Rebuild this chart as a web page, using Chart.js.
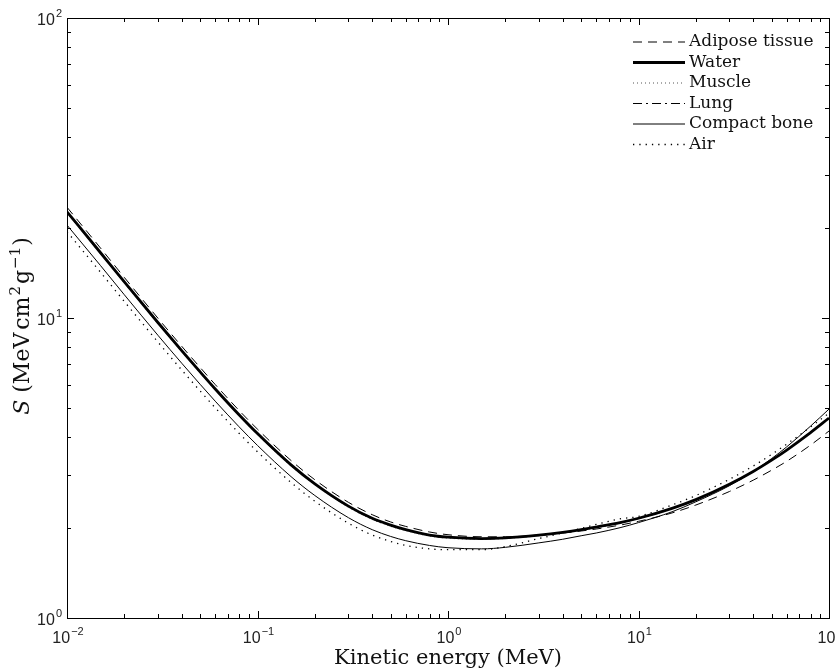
<!DOCTYPE html>
<html>
<head>
<meta charset="utf-8">
<title>Electron stopping power</title>
<script src="https://cdn.jsdelivr.net/npm/chart.js"></script>
<style>
  html, body { margin: 0; padding: 0; background: #fff; }
</style>
</head>
<body>
<canvas id="spChart" width="836" height="672"></canvas>
<script>
// kinetic energy (MeV) and total stopping power S (MeV cm2/g)
const energy  = [0.01, 0.015, 0.02, 0.03, 0.04, 0.05, 0.06, 0.08, 0.1, 0.15, 0.2, 0.3, 0.4, 0.5, 0.6, 0.8,
                 1, 1.5, 2, 3, 4, 5, 6, 8, 10, 15, 20, 30, 40, 50, 60, 80, 100];
const adipose = [23.4, 17.1, 13.65, 9.99, 8.05, 6.84, 6.00, 4.92, 4.26, 3.35, 2.89, 2.43, 2.21, 2.09, 2.02, 1.935,
                 1.895, 1.865, 1.865, 1.89, 1.92, 1.95, 1.98, 2.04, 2.10, 2.24, 2.38, 2.64, 2.88, 3.11, 3.33, 3.77, 4.20];
const water   = [22.6, 16.5, 13.2, 9.66, 7.78, 6.61, 5.80, 4.76, 4.12, 3.24, 2.80, 2.36, 2.15, 2.04, 1.97, 1.89,
                 1.86, 1.84, 1.85, 1.89, 1.93, 1.97, 2.01, 2.08, 2.15, 2.32, 2.48, 2.79, 3.08, 3.36, 3.63, 4.15, 4.64];
const muscle  = [22.4, 16.35, 13.08, 9.57, 7.71, 6.55, 5.75, 4.72, 4.08, 3.21, 2.78, 2.34, 2.13, 2.02, 1.955, 1.875,
                 1.845, 1.83, 1.84, 1.88, 1.92, 1.96, 2.00, 2.07, 2.14, 2.31, 2.47, 2.78, 3.07, 3.35, 3.62, 4.14, 4.63];
const lung    = [22.5, 16.43, 13.14, 9.62, 7.75, 6.58, 5.78, 4.74, 4.10, 3.23, 2.79, 2.35, 2.14, 2.03, 1.965, 1.885,
                 1.855, 1.835, 1.845, 1.885, 1.925, 1.965, 2.005, 2.075, 2.145, 2.315, 2.475, 2.785, 3.075, 3.355, 3.625, 4.145, 4.635];
const bone    = [20.4, 14.95, 11.95, 8.76, 7.07, 6.01, 5.28, 4.34, 3.76, 2.96, 2.56, 2.16, 1.97, 1.87, 1.81, 1.745,
                 1.715, 1.70, 1.72, 1.78, 1.83, 1.88, 1.92, 2.00, 2.08, 2.26, 2.44, 2.76, 3.08, 3.40, 3.72, 4.36, 4.97];
const air     = [19.4, 14.2, 11.35, 8.32, 6.71, 5.71, 5.02, 4.13, 3.58, 2.83, 2.45, 2.07, 1.89, 1.80, 1.745, 1.70,
                 1.69, 1.69, 1.73, 1.84, 1.92, 1.99, 2.05, 2.14, 2.18, 2.38, 2.56, 2.90, 3.21, 3.51, 3.80, 4.33, 4.82];

const xTickValues = [0.01, 0.1, 1, 10, 100];
const xTickExps   = ['\u22122', '\u22121', '0', '1', '2'];
const yTickValues = [1, 10, 100];
const yTickExps   = ['0', '1', '2'];

const serif = '"DejaVu Serif", "Liberation Serif", serif';
const sans = '"Liberation Sans", Arial, sans-serif';

function pts(vals) {
  return energy.map((e, i) => ({ x: e, y: vals[i] }));
}

function line(label, vals, width, dash, color) {
  return {
    label: label,
    data: pts(vals),
    borderColor: color || '#000',
    borderWidth: width,
    borderDash: dash,
    pointRadius: 0,
    fill: false,
    cubicInterpolationMode: 'monotone'
  };
}

// box round the plot area, inward ticks on all four sides, tick labels with exponents
const frame = {
  id: 'frame',
  afterDatasetsDraw(chart) {
    const { ctx, chartArea: a, scales: { x, y } } = chart;
    ctx.save();
    ctx.strokeStyle = '#000';
    ctx.lineWidth = 1;
    ctx.setLineDash([]);
    ctx.strokeRect(a.left + 0.5, a.top + 0.5, a.right - a.left, a.bottom - a.top);

    ctx.beginPath();
    for (let n = -2; n < 2; n++) {
      for (let k = 1; k <= 9; k++) {
        const px = Math.round(x.getPixelForValue(k * Math.pow(10, n))) + 0.5;
        const len = k === 1 ? 7 : 4;
        ctx.moveTo(px, a.bottom); ctx.lineTo(px, a.bottom - len);
        ctx.moveTo(px, a.top); ctx.lineTo(px, a.top + len);
      }
    }
    for (let n = 0; n < 2; n++) {
      for (let k = 1; k <= 9; k++) {
        const py = Math.round(y.getPixelForValue(k * Math.pow(10, n))) + 0.5;
        const len = k === 1 ? 7 : 4;
        ctx.moveTo(a.left, py); ctx.lineTo(a.left + len, py);
        ctx.moveTo(a.right, py); ctx.lineTo(a.right - len, py);
      }
    }
    ctx.stroke();

    ctx.fillStyle = '#222';
    ctx.textBaseline = 'alphabetic';
    const base = '16px ' + sans, sup = '11px ' + sans;
    function label(exp, cx, baseline, anchor) {
      ctx.font = base; const w1 = ctx.measureText('10').width;
      ctx.font = sup; const w2 = ctx.measureText(exp).width + 1;
      const left = anchor === 'right' ? cx - w1 - w2 : cx - (w1 + w2) / 2;
      ctx.font = base; ctx.fillText('10', left, baseline);
      ctx.font = sup; ctx.fillText(exp, left + w1 + 1, baseline - 8);
    }
    xTickValues.forEach((v, i) => label(xTickExps[i], x.getPixelForValue(v) + 1, a.bottom + 25, 'center'));
    yTickValues.forEach((v, i) => label(yTickExps[i], a.left - 5, y.getPixelForValue(v) + 7, 'right'));

    // x title
    ctx.fillStyle = '#111';
    ctx.font = '21px ' + serif;
    ctx.textAlign = 'center';
    ctx.fillText('Kinetic energy (MeV)', (a.left + a.right) / 2, 664);

    // y title: S (MeV cm^2 g^-1), pieces drawn in a row with raised exponents
    const big = '22px ' + serif, small = '15px ' + serif;
    const parts = [
      { t: 'S', f: 'italic ' + big, dy: 0 },
      { t: ' (MeV', f: big, dy: 0 },
      { t: 'cm', f: big, dy: 0, gap: 3 },
      { t: '2', f: small, dy: -9, gap: 1 },
      { t: 'g', f: big, dy: 0, gap: 2 },
      { t: '\u22121', f: small, dy: -9, gap: 1 },
      { t: ')', f: big, dy: 0, gap: 1 }
    ];
    let total = 0;
    parts.forEach(p => { ctx.font = p.f; p.w = ctx.measureText(p.t).width; total += p.w + (p.gap || 0); });
    ctx.translate(29, 326);
    ctx.rotate(-Math.PI / 2);
    ctx.textAlign = 'left';
    let pos = -total / 2;
    parts.forEach(p => {
      pos += p.gap || 0;
      ctx.font = p.f;
      ctx.fillText(p.t, pos, p.dy);
      pos += p.w;
    });
    ctx.restore();
  }
};

// legend in the top right corner, no box
const legendInside = {
  id: 'legendInside',
  afterDraw(chart) {
    const { ctx } = chart;
    ctx.save();
    ctx.font = '17px ' + serif;
    ctx.fillStyle = '#111';
    ctx.textBaseline = 'middle';
    chart.data.datasets.forEach((ds, i) => {
      const yy = 42 + i * 20.5;
      ctx.strokeStyle = ds.borderColor;
      ctx.lineWidth = ds.borderWidth;
      ctx.setLineDash(ds.borderDash || []);
      ctx.beginPath();
      ctx.moveTo(633, yy);
      ctx.lineTo(685, yy);
      ctx.stroke();
      ctx.fillText(ds.label, 689, yy);
    });
    ctx.restore();
  }
};

const chart = new Chart(document.getElementById('spChart'), {
  type: 'line',
  data: {
    datasets: [
      line('Adipose tissue', adipose, 1, [9, 6]),
      line('Water', water, 2.8, []),
      line('Muscle', muscle, 1, [1, 3], '#555'),
      line('Lung', lung, 1, [9, 4, 2, 4]),
      line('Compact bone', bone, 1, []),
      line('Air', air, 1.3, [1.3, 5])
    ]
  },
  options: {
    responsive: false,
    animation: false,
    devicePixelRatio: 1,
    layout: { padding: { top: 18, right: 7, left: 0, bottom: 0 } },
    plugins: { legend: { display: false }, tooltip: { enabled: false } },
    scales: {
      x: {
        type: 'logarithmic',
        min: 0.01,
        max: 100,
        grid: { display: false, drawTicks: false },
        border: { display: false },
        ticks: { display: false },
        afterFit(s) { s.height = 54; s.paddingLeft = 0; s.paddingRight = 0; }
      },
      y: {
        type: 'logarithmic',
        min: 1,
        max: 100,
        grid: { display: false, drawTicks: false },
        border: { display: false },
        ticks: { display: false },
        afterFit(s) { s.width = 67; s.paddingTop = 0; s.paddingBottom = 0; }
      }
    }
  },
  plugins: [frame, legendInside]
});
</script>
</body>
</html>
